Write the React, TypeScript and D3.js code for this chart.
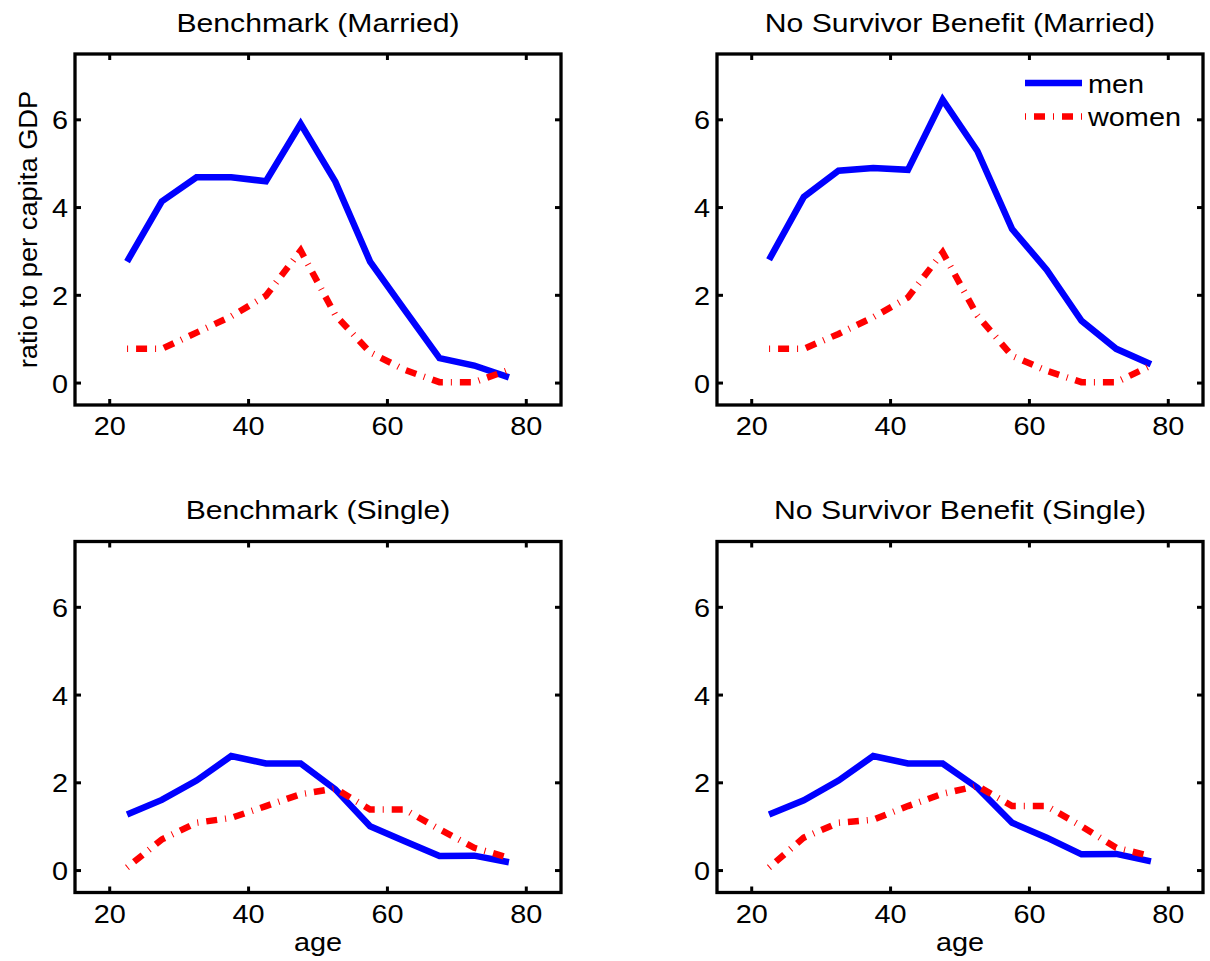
import React, { useEffect, useRef } from "react";
import * as d3 from "d3";

// ages (midpoints of 5-year groups)
const ages = [22.5, 27.5, 32.5, 37.5, 42.5, 47.5, 52.5, 57.5, 62.5, 67.5, 72.5, 77.5];

const benchMarriedMen = [2.77, 4.14, 4.69, 4.69, 4.6, 5.91, 4.59, 2.77, 1.66, 0.57, 0.4, 0.13];
const benchMarriedWomen = [0.78, 0.78, 1.15, 1.52, 1.99, 3.02, 1.55, 0.7, 0.3, 0.02, 0.02, 0.3];
const noSurvMarriedMen = [2.81, 4.24, 4.84, 4.9, 4.86, 6.46, 5.29, 3.51, 2.58, 1.42, 0.78, 0.43];
const noSurvMarriedWomen = [0.78, 0.78, 1.12, 1.5, 1.95, 2.98, 1.54, 0.62, 0.28, 0.02, 0.02, 0.4];
const benchSingleMen = [1.28, 1.61, 2.05, 2.61, 2.44, 2.44, 1.85, 1.01, 0.67, 0.33, 0.34, 0.19];
const benchSingleWomen = [0.07, 0.71, 1.09, 1.2, 1.47, 1.74, 1.87, 1.39, 1.39, 0.94, 0.52, 0.29];
const noSurvSingleMen = [1.28, 1.6, 2.05, 2.61, 2.44, 2.44, 1.89, 1.09, 0.75, 0.37, 0.38, 0.21];
const noSurvSingleWomen = [0.07, 0.75, 1.09, 1.16, 1.47, 1.75, 1.93, 1.47, 1.47, 1.01, 0.52, 0.33];

const titles = [
  "Benchmark (Married)",
  "No Survivor Benefit (Married)",
  "Benchmark (Single)",
  "No Survivor Benefit (Single)",
];
const xTicks = [20, 40, 60, 80];
const yTicks = [0, 2, 4, 6];
const seriesNames = ["men", "women"];

const W = 1210;
const H = 961;
const FONT = "'Liberation Sans', Arial, Helvetica, sans-serif";

const App = () => {
  const svgRef = useRef<SVGSVGElement | null>(null);

  useEffect(() => {
    const svg = d3.select(svgRef.current);
    svg.selectAll("*").remove();

    const panels = [
      { x0: 75, y0: 54, men: benchMarriedMen, women: benchMarriedWomen, legend: false, ylab: true, xlab: false },
      { x0: 717, y0: 54, men: noSurvMarriedMen, women: noSurvMarriedWomen, legend: true, ylab: false, xlab: false },
      { x0: 75, y0: 541.5, men: benchSingleMen, women: benchSingleWomen, legend: false, ylab: false, xlab: true },
      { x0: 717, y0: 541.5, men: noSurvSingleMen, women: noSurvSingleWomen, legend: false, ylab: false, xlab: true },
    ];
    const pw = 486;
    const ph = 351;
    const tickLen = 6;

    const stretchText = (g, x, y, txt, anchor, sx, rot = 0) => {
      g.append("g")
        .attr("transform", `translate(${x},${y}) rotate(${rot}) scale(${sx},1)`)
        .append("text")
        .attr("text-anchor", anchor)
        .attr("font-family", FONT)
        .attr("font-size", 26)
        .attr("fill", "#000")
        .text(txt);
    };

    panels.forEach((p, i) => {
      const x = d3.scaleLinear().domain([15, 85]).range([p.x0, p.x0 + pw]);
      const y = d3.scaleLinear().domain([-0.5, 7.5]).range([p.y0 + ph, p.y0]);
      const g = svg.append("g");

      // data lines
      const line = d3
        .line<number>()
        .x((_, j) => x(ages[j]))
        .y((d) => y(d));

      g.append("path")
        .datum(p.men)
        .attr("fill", "none")
        .attr("stroke", "#0000ff")
        .attr("stroke-width", 6.5)
        .attr("stroke-linejoin", "miter")
        .attr("d", line);

      g.append("path")
        .datum(p.women)
        .attr("fill", "none")
        .attr("stroke", "#ff0000")
        .attr("stroke-width", 6.5)
        .attr("stroke-dasharray", "11 8 1 8")
        .attr("stroke-dashoffset", 19)
        .attr("d", line);

      // frame
      g.append("rect")
        .attr("x", p.x0)
        .attr("y", p.y0)
        .attr("width", pw)
        .attr("height", ph)
        .attr("fill", "none")
        .attr("stroke", "#000")
        .attr("stroke-width", 3.3);

      // ticks on all four sides, pointing in
      xTicks.forEach((t) => {
        g.append("line")
          .attr("x1", x(t)).attr("x2", x(t))
          .attr("y1", p.y0 + ph).attr("y2", p.y0 + ph - tickLen)
          .attr("stroke", "#000").attr("stroke-width", 3);
        g.append("line")
          .attr("x1", x(t)).attr("x2", x(t))
          .attr("y1", p.y0).attr("y2", p.y0 + tickLen)
          .attr("stroke", "#000").attr("stroke-width", 3);
        stretchText(g, x(t), p.y0 + ph + 30, String(t), "middle", 1.11);
      });
      yTicks.forEach((t) => {
        g.append("line")
          .attr("x1", p.x0).attr("x2", p.x0 + tickLen)
          .attr("y1", y(t)).attr("y2", y(t))
          .attr("stroke", "#000").attr("stroke-width", 3);
        g.append("line")
          .attr("x1", p.x0 + pw).attr("x2", p.x0 + pw - tickLen)
          .attr("y1", y(t)).attr("y2", y(t))
          .attr("stroke", "#000").attr("stroke-width", 3);
        stretchText(g, p.x0 - 7, y(t) + 9.5, String(t), "end", 1.11);
      });

      // title
      stretchText(g, p.x0 + pw / 2, p.y0 - 22.5, titles[i], "middle", 1.16);

      if (p.xlab) stretchText(g, p.x0 + pw / 2, p.y0 + ph + 58, "age", "middle", 1.11);
      if (p.ylab) stretchText(g, 37, p.y0 + ph / 2, "ratio to per capita GDP", "middle", 1.05, -90);

      if (p.legend) {
        const lx = p.x0 + pw - 178;
        const rows = [
          { name: seriesNames[0], color: "#0000ff", dash: null, y: p.y0 + 29 },
          { name: seriesNames[1], color: "#ff0000", dash: "11 8 1 8", y: p.y0 + 62.5 },
        ];
        rows.forEach((r) => {
          const l = g.append("line")
            .attr("x1", lx).attr("x2", lx + 57)
            .attr("y1", r.y).attr("y2", r.y)
            .attr("stroke", r.color)
            .attr("stroke-width", 6.5);
          if (r.dash) l.attr("stroke-dasharray", r.dash).attr("stroke-dashoffset", 19);
          stretchText(g, lx + 63, r.y + 9.5, r.name, "start", 1.11);
        });
      }
    });
  }, []);

  return (
    <div>
      <svg
        ref={svgRef}
        width={W}
        height={H}
        style={{ position: "absolute", left: 0, top: 0, background: "#fff" }}
      ></svg>
    </div>
  );
};

export default App;
